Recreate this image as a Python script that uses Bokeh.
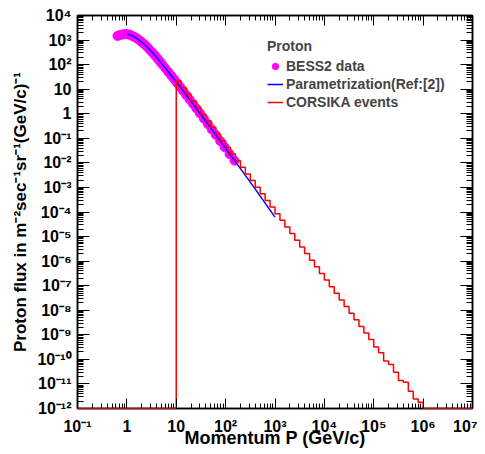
import numpy as np
from bokeh.plotting import figure
from bokeh.models import (LogAxis, FixedTicker, ColumnDataSource, Legend, LegendItem,
                          Range1d, CustomJSTickFormatter)
from bokeh.embed import file_html
from bokeh.resources import INLINE

# ---------------- data ----------------
# BESS2 measured proton flux (log10 momentum [GeV/c], log10 flux)
bess_log10_p = [-0.19, -0.15, -0.11, -0.07, -0.03, 0.01, 0.05, 0.09, 0.13, 0.17,
                0.21, 0.25, 0.29, 0.33, 0.37, 0.42, 0.47, 0.52, 0.57, 0.62,
                0.67, 0.72, 0.78, 0.84, 0.90, 0.96, 1.02, 1.08, 1.14, 1.20,
                1.27, 1.34, 1.41, 1.48, 1.56, 1.64, 1.72, 1.80, 1.89, 1.98,
                2.08, 2.18]
bess_log10_flux = [3.17, 3.20, 3.22, 3.235, 3.24, 3.24, 3.22, 3.19, 3.15, 3.11,
                   3.06, 3.00, 2.935, 2.87, 2.80, 2.70, 2.59, 2.485, 2.37, 2.25,
                   2.125, 2.00, 1.85, 1.70, 1.55, 1.40, 1.25, 1.09, 0.93, 0.77,
                   0.585, 0.40, 0.21, 0.02, -0.20, -0.42, -0.64, -0.86, -1.11, -1.36,
                   -1.64, -1.91]

# Parametrization (Ref:[2])
param_log10_p = [0.0, 0.1, 0.2, 0.3, 0.4, 0.5, 0.6, 0.7, 0.8, 0.9, 1.0,
                 1.2, 1.4, 1.6, 1.8, 2.0, 2.2, 2.4, 2.6, 2.8, 3.0]
param_log10_flux = [3.24, 3.19, 3.07, 2.92, 2.74, 2.53, 2.30, 2.05, 1.80, 1.55, 1.30,
                    0.77, 0.23, -0.31, -0.86, -1.41, -1.96, -2.51, -3.07, -3.64, -4.21]

# CORSIKA events histogram: bins of 0.1 decade starting at 10 GeV/c
corsika_first_edge_log10 = 1.0
corsika_bin_width_log10 = 0.1
corsika_log10_flux = [1.33, 1.06, 0.79, 0.52, 0.25, -0.02, -0.29, -0.56, -0.83, -1.10,
                      -1.37, -1.64, -1.91, -2.18, -2.45, -2.72, -2.99, -3.26, -3.53, -3.80,
                      -4.07, -4.34, -4.61, -4.88, -5.15, -5.42, -5.69, -5.96, -6.23, -6.50,
                      -6.77, -7.04, -7.31, -7.58, -7.85, -8.12, -8.39, -8.66, -8.93, -9.19,
                      -9.50, -9.73, -10.07, -10.21, -10.52, -10.86, -10.93, -11.30, -11.61, -11.75]

x_tick_exponents = [-1, 0, 1, 2, 3, 4, 5, 6, 7]
y_tick_exponents = [-12, -11, -10, -9, -8, -7, -6, -5, -4, -3, -2, -1, 0, 1, 2, 3, 4]

legend_title = "Proton"
legend_labels = ["BESS2 data", "Parametrization(Ref:[2])", "CORSIKA events"]
x_title = "Momentum P (GeV/c)"
y_title = "Proton flux in m\u207b\u00b2sec\u207b\u00b9sr\u207b\u00b9(GeV/c)\u207b\u00b9"

# ---------------- helpers ----------------
SUP = {"-": "\u207b", "0": "\u2070", "1": "\u00b9", "2": "\u00b2", "3": "\u00b3", "4": "\u2074",
       "5": "\u2075", "6": "\u2076", "7": "\u2077", "8": "\u2078", "9": "\u2079"}

def pow_label(k):
    if k == 0:
        return "1"
    if k == 1:
        return "10"
    return "10" + "".join(SUP[c] for c in str(k))

x_tick_labels = [pow_label(k) for k in x_tick_exponents]
y_tick_labels = [pow_label(k) for k in y_tick_exponents]

FONT_NAME = "Liberation Sans"
XMIN, XMAX = 10.0 ** x_tick_exponents[0], 10.0 ** x_tick_exponents[-1]
YMIN, YMAX = 10.0 ** y_tick_exponents[0], 10.0 ** y_tick_exponents[-1]

# ---------------- figure ----------------
p = figure(frame_width=395, frame_height=393, x_axis_type="log", y_axis_type="log",
           x_range=Range1d(XMIN, XMAX), y_range=Range1d(YMIN, YMAX),
           output_backend="svg", toolbar_location=None,
           min_border_left=77, min_border_right=5, min_border_top=15, min_border_bottom=38)
p.grid.visible = False
p.outline_line_color = "black"
p.outline_line_width = 1.5
p.background_fill_color = "white"
p.border_fill_color = "white"

def minor_list(exps):
    return [m * 10.0 ** k for k in exps[:-1] for m in range(2, 10)]

xticker = FixedTicker(ticks=[10.0 ** k for k in x_tick_exponents], minor_ticks=minor_list(x_tick_exponents))
yticker = FixedTicker(ticks=[10.0 ** k for k in y_tick_exponents], minor_ticks=minor_list(y_tick_exponents))

FMT_CODE = """
const k = Math.round(Math.log10(tick));
const i = exps.indexOf(k);
return i >= 0 ? labels[i] : "";
"""

def style_axis(ax, ticker, major_len, minor_len, exps=None, labels=None):
    ax.ticker = ticker
    ax.major_tick_in = major_len
    ax.major_tick_out = 0
    ax.minor_tick_in = minor_len
    ax.minor_tick_out = 0
    ax.axis_line_width = 1.5
    ax.axis_line_color = "black"
    ax.major_tick_line_color = "black"
    ax.minor_tick_line_color = "black"
    if labels is None:
        ax.formatter = CustomJSTickFormatter(code='return "";')
        ax.major_label_text_font_size = "0px"
        ax.major_label_standoff = 0
        ax.axis_label_standoff = 0
    else:
        ax.formatter = CustomJSTickFormatter(args=dict(exps=exps, labels=labels), code=FMT_CODE)
        ax.major_label_text_font = FONT_NAME
        ax.major_label_text_font_style = "bold"
        ax.major_label_text_font_size = "16px"
        ax.major_label_text_color = "black"
    ax.axis_label_text_font = FONT_NAME
    ax.axis_label_text_font_style = "bold"
    ax.axis_label_text_font_size = "17px"
    ax.axis_label_text_color = "black"

xa = p.xaxis[0]
style_axis(xa, xticker, 10, 5, x_tick_exponents, x_tick_labels)
xa.major_label_standoff = 9
xa.axis_label = x_title
xa.axis_label_text_font_size = "18px"
xa.axis_label_standoff = -10

ya = p.yaxis[0]
style_axis(ya, yticker, 12, 6, y_tick_exponents, y_tick_labels)
ya.major_label_standoff = 6
ya.axis_label = y_title
ya.axis_label_standoff = 4

top_axis = LogAxis()
style_axis(top_axis, xticker, 10, 5)
p.add_layout(top_axis, "above")
right_axis = LogAxis()
style_axis(right_axis, yticker, 12, 6)
p.add_layout(right_axis, "right")

# ---------------- glyphs ----------------
bess_src = ColumnDataSource(dict(p=[10.0 ** v for v in bess_log10_p],
                                 f=[10.0 ** v for v in bess_log10_flux]))
r_bess = p.scatter("p", "f", source=bess_src, marker="circle", size=9,
                   fill_color="#ff00ff", line_color="#ff00ff")

param_src = ColumnDataSource(dict(p=[10.0 ** v for v in param_log10_p],
                                  f=[10.0 ** v for v in param_log10_flux]))
r_param = p.line("p", "f", source=param_src, line_color="#0000ff", line_width=1.5)

n_bins = len(corsika_log10_flux)
edges = [10.0 ** (corsika_first_edge_log10 + corsika_bin_width_log10 * i) for i in range(n_bins + 1)]
hx = [edges[0]]
hy = [YMIN]
for i, v in enumerate(corsika_log10_flux):
    hx += [edges[i], edges[i + 1]]
    hy += [10.0 ** v, 10.0 ** v]
hx += [edges[-1]]
hy += [YMIN]
r_cors = p.line(hx, hy, line_color="#ff0000", line_width=1.5)

# empty histogram bins lying on the lower frame edge (dark red over the axis)
r_empty = p.multi_line(xs=[[XMIN, edges[0]], [edges[-1], XMAX]], ys=[[YMIN, YMIN], [YMIN, YMIN]],
                       line_color="#a01818", line_width=1.5)
r_empty.level = "overlay"

# ---------------- legend ----------------
legend = Legend(items=[LegendItem(label=legend_labels[0], renderers=[r_bess]),
                       LegendItem(label=legend_labels[1], renderers=[r_param]),
                       LegendItem(label=legend_labels[2], renderers=[r_cors])],
                location=(190, 297), title=legend_title,
                title_text_font=FONT_NAME, title_text_font_style="bold", title_text_font_size="14px",
                title_standoff=3,
                label_text_font=FONT_NAME, label_text_font_style="bold", label_text_font_size="14px",
                glyph_width=16, glyph_height=18, label_height=18, label_standoff=3, spacing=0,
                padding=0, margin=0, border_line_color=None, background_fill_alpha=0)
p.add_layout(legend)

open("out.html", "w").write(file_html(p, INLINE))
